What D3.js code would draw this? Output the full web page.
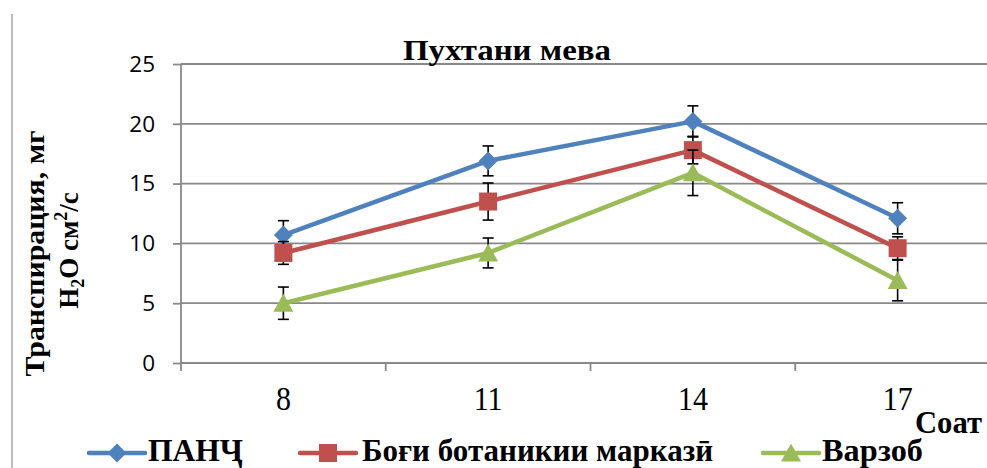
<!DOCTYPE html>
<html>
<head>
<meta charset="utf-8">
<script src="https://cdn.jsdelivr.net/npm/d3@7"></script>
<style>
  body { margin: 0; background: #fff; }
  svg { display: block; }
</style>
</head>
<body>
<div id="chart"></div>
<script>
// Hours of measurement (x categories)
const hours = ["8", "11", "14", "17"];
// Series names as shown in the legend
const seriesNames = ["ПАНҶ", "Боғи ботаникии марказӣ", "Варзоб"];
// Transpiration, mg H2O per cm² per s, with error margins
const panjValues    = [10.7, 16.9, 20.2, 12.1];
const panjErrors    = [1.2, 1.25, 1.3, 1.3];
const botanicValues = [9.2, 13.5, 17.8, 9.6];
const botanicErrors = [0.95, 1.55, 1.15, 0.95];
const varzobValues  = [5.0, 9.2, 15.9, 6.9];
const varzobErrors  = [1.35, 1.25, 1.9, 1.7];
const yTicks = [0, 5, 10, 15, 20, 25];

const colors = ["#4F81BD", "#C0504D", "#9BBB59"];
const markerShapes = ["diamond", "square", "triangle"];

const series = seriesNames.map((name, i) => ({
  name,
  color: colors[i],
  shape: markerShapes[i],
  values: [panjValues, botanicValues, varzobValues][i],
  errors: [panjErrors, botanicErrors, varzobErrors][i]
}));

const W = 987, H = 468;
const plot = { left: 181, right: 1000, top: 64, bottom: 363 };
const serif = "'Liberation Serif', 'Times New Roman', serif";
const sans = "'Open Sans', 'Noto Sans', sans-serif";
const gridColor = "#898989";

const svg = d3.select("#chart").append("svg")
  .attr("width", W).attr("height", H)
  .style("font-family", serif);

svg.append("rect").attr("width", W).attr("height", H).attr("fill", "#fff");

// Left frame edge
svg.append("line")
  .attr("x1", 12).attr("x2", 12).attr("y1", 14).attr("y2", H)
  .attr("stroke", "#a6a6a6").attr("stroke-width", 1.5);

const x = d3.scaleBand().domain(hours).range([plot.left, plot.right]).padding(0);
const y = d3.scaleLinear().domain([0, 25]).range([plot.bottom, plot.top]);

// Horizontal gridlines
svg.append("g").selectAll("line").data(yTicks.filter(t => t > 0)).join("line")
  .attr("x1", plot.left).attr("x2", W)
  .attr("y1", d => y(d)).attr("y2", d => y(d))
  .attr("stroke", gridColor).attr("stroke-width", 1.8);

// Y axis with outward ticks
const yAxis = svg.append("g")
  .attr("transform", `translate(${plot.left},0)`)
  .call(d3.axisLeft(y).tickValues(yTicks).tickSize(8).tickPadding(18).tickSizeOuter(0));
yAxis.select(".domain").remove();
yAxis.selectAll(".tick line").attr("stroke", gridColor).attr("stroke-width", 1.8);
yAxis.selectAll(".tick text")
  .attr("font-family", sans).attr("font-size", 22.5).attr("fill", "#000");
svg.append("line")
  .attr("x1", plot.left).attr("x2", plot.left)
  .attr("y1", plot.top).attr("y2", plot.bottom + 8)
  .attr("stroke", gridColor).attr("stroke-width", 1.8);

// X axis line with ticks between categories
svg.append("line")
  .attr("x1", plot.left).attr("x2", W)
  .attr("y1", plot.bottom).attr("y2", plot.bottom)
  .attr("stroke", gridColor).attr("stroke-width", 1.8);
svg.append("g").selectAll("line").data(hours.slice(1)).join("line")
  .attr("x1", d => x(d)).attr("x2", d => x(d))
  .attr("y1", plot.bottom).attr("y2", plot.bottom + 8)
  .attr("stroke", gridColor).attr("stroke-width", 1.8);

// Category labels
svg.append("g").selectAll("text").data(hours).join("text")
  .attr("transform", d => `translate(${x(d) + x.bandwidth() / 2},410) scale(1,1.12)`)
  .attr("text-anchor", "middle")
  .attr("font-size", 30)
  .text(d => d);

// Marker path generator
function markerPath(shape) {
  if (shape === "diamond") return "M0,-9.5L9.5,0L0,9.5L-9.5,0Z";
  if (shape === "square") return "M-9,-9L9,-9L9,9L-9,9Z";
  return "M0,-9.5L10,8.5L-10,8.5Z";
}

const line = d3.line()
  .x((d, i) => x(hours[i]) + x.bandwidth() / 2)
  .y(d => y(d));

series.forEach(s => {
  const g = svg.append("g");
  // error bars
  const eb = g.append("g").selectAll("g").data(s.values.map((v, i) => ({ v, e: s.errors[i], h: hours[i] }))).join("g")
    .attr("transform", d => `translate(${x(d.h) + x.bandwidth() / 2},0)`);
  eb.append("line")
    .attr("y1", d => y(d.v + d.e)).attr("y2", d => y(d.v - d.e))
    .attr("stroke", "#000").attr("stroke-width", 1.6);
  eb.append("line")
    .attr("x1", -5.5).attr("x2", 5.5)
    .attr("y1", d => y(d.v + d.e)).attr("y2", d => y(d.v + d.e))
    .attr("stroke", "#000").attr("stroke-width", 1.6);
  eb.append("line")
    .attr("x1", -5.5).attr("x2", 5.5)
    .attr("y1", d => y(d.v - d.e)).attr("y2", d => y(d.v - d.e))
    .attr("stroke", "#000").attr("stroke-width", 1.6);
  // series line
  g.append("path")
    .attr("d", line(s.values))
    .attr("fill", "none").attr("stroke", s.color)
    .attr("stroke-width", 4.5).attr("stroke-linejoin", "round").attr("stroke-linecap", "round");
  // markers
  g.append("g").selectAll("path").data(s.values).join("path")
    .attr("transform", (d, i) => `translate(${x(hours[i]) + x.bandwidth() / 2},${y(d)})`)
    .attr("d", markerPath(s.shape))
    .attr("fill", s.color);
});

// Title
svg.append("text")
  .attr("x", 403).attr("y", 60)
  .attr("font-size", 29).attr("font-weight", "bold")
  .attr("textLength", 208).attr("lengthAdjust", "spacingAndGlyphs")
  .text("Пухтани мева");

// Y axis title (two rotated lines)
svg.append("text")
  .attr("transform", "translate(44,253.5) rotate(-90)")
  .attr("text-anchor", "middle")
  .attr("font-size", 27).attr("font-weight", "bold")
  .attr("textLength", 246).attr("lengthAdjust", "spacingAndGlyphs")
  .text("Транспирация, мг");
const yt2 = svg.append("text")
  .attr("transform", "translate(78,250.5) rotate(-90)")
  .attr("text-anchor", "middle")
  .attr("font-size", 27).attr("font-weight", "bold");
yt2.append("tspan").text("H");
yt2.append("tspan").attr("font-size", 18).attr("dy", 6).text("2");
yt2.append("tspan").attr("dy", -6).text("O см");
yt2.append("tspan").attr("font-size", 18).attr("dy", -11).text("2");
yt2.append("tspan").attr("dy", 11).text("/с");

// X axis title
svg.append("text")
  .attr("x", 915).attr("y", 433)
  .attr("font-size", 31).attr("font-weight", "bold")
  .attr("textLength", 67).attr("lengthAdjust", "spacingAndGlyphs")
  .text("Соат");

// Legend
const legendItems = [
  { x: 89, textX: 148, len: 95 },
  { x: 300, textX: 362, len: 351 },
  { x: 763, textX: 822, len: 101 }
];
const lg = svg.append("g");
series.forEach((s, i) => {
  const it = legendItems[i];
  const cy = 453;
  lg.append("line")
    .attr("x1", it.x).attr("x2", it.x + 56)
    .attr("y1", cy).attr("y2", cy)
    .attr("stroke", s.color).attr("stroke-width", 4.5).attr("stroke-linecap", "round");
  lg.append("path")
    .attr("transform", `translate(${it.x + 28},${cy})`)
    .attr("d", markerPath(s.shape))
    .attr("fill", s.color);
  lg.append("text")
    .attr("x", it.textX).attr("y", 461)
    .attr("font-size", 31).attr("font-weight", "bold")
    .attr("textLength", it.len).attr("lengthAdjust", "spacingAndGlyphs")
    .text(s.name);
});
</script>
</body>
</html>
